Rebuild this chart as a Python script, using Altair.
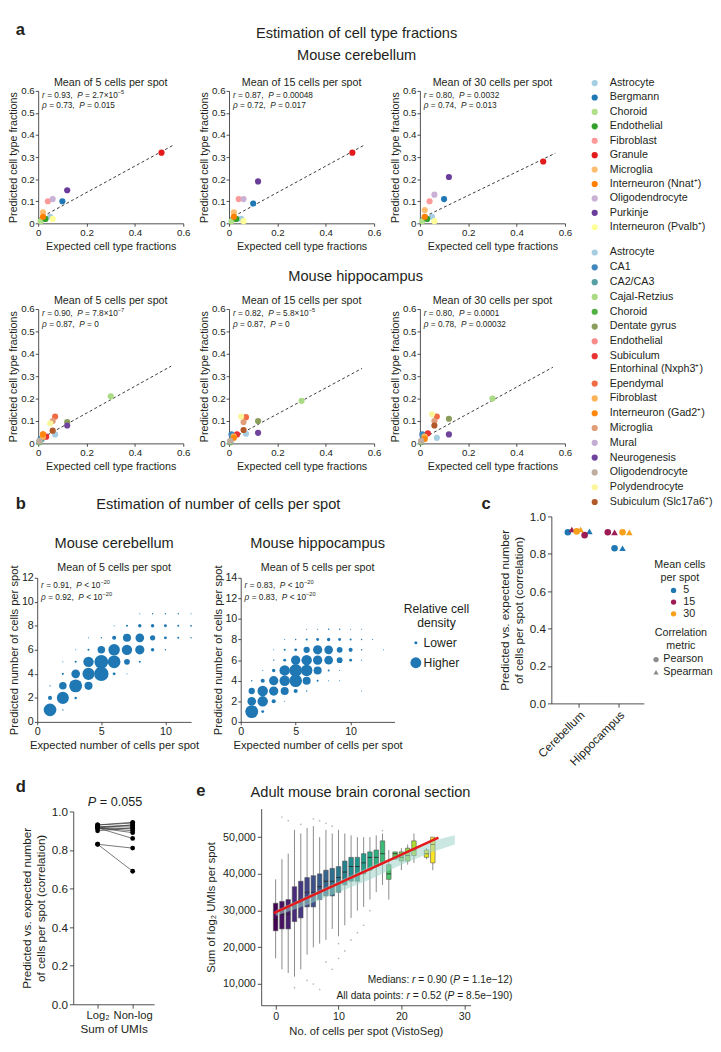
import altair as alt
import pandas as pd

FONT = "Liberation Sans"
INK = "#231f20"
W, H = 712, 1043


def X(v):
    return v - 8


def Y(v):
    return v - 8


# ---------------- panel a : mouse cerebellum ----------------
cb_types = ["Astrocyte", "Bergmann", "Choroid", "Endothelial", "Fibroblast", "Granule",
            "Microglia", "Interneuron (Nnat⁺)", "Oligodendrocyte", "Purkinje", "Interneuron (Pvalb⁺)"]
cb_colors = ["#a6cee3", "#1f78b4", "#b2df8a", "#33a02c", "#fb9a99", "#e31a1c",
             "#fdbf6f", "#ff7f00", "#cab2d6", "#6a3d9a", "#ffff99"]
cb_expected = [0.05, 0.10, 0.01, 0.03, 0.04, 0.51, 0.02, 0.02, 0.06, 0.12, 0.06]
cb_pred_5 = [0.03, 0.10, 0.01, 0.02, 0.10, 0.32, 0.05, 0.03, 0.11, 0.15, 0.02]
cb_pred_15 = [0.02, 0.09, 0.01, 0.02, 0.11, 0.32, 0.05, 0.03, 0.11, 0.19, 0.01]
cb_pred_30 = [0.03, 0.11, 0.01, 0.02, 0.10, 0.28, 0.06, 0.03, 0.13, 0.21, 0.01]
cb_fit_x = [0.0, 0.56]
cb_fit_5 = [0.02, 0.355]
cb_fit_15 = [0.02, 0.355]
cb_fit_30 = [0.02, 0.318]
cb_r = ["0.93", "0.87", "0.80"]
cb_r_p = ["2.7×10^−5", "0.00048", "0.0032"]
cb_rho = ["0.73", "0.72", "0.74"]
cb_rho_p = ["0.015", "0.017", "0.013"]

# ---------------- panel a : mouse hippocampus ----------------
hc_types = ["Astrocyte", "CA1", "CA2/CA3", "Cajal-Retzius", "Choroid", "Dentate gyrus", "Endothelial",
            "Subiculum Entorhinal (Nxph3⁺)", "Ependymal", "Fibroblast", "Interneuron (Gad2⁺)",
            "Microglia", "Mural", "Neurogenesis", "Oligodendrocyte", "Polydendrocyte",
            "Subiculum (Slc17a6⁺)"]
hc_colors = ["#a6cee3", "#3f87bd", "#569fa4", "#aadb84", "#53b044", "#8a9d5c", "#f88a89",
             "#e73233", "#f06c45", "#fdb35a", "#fe870e", "#e19c78", "#c3aed3", "#70449e",
             "#bfae9f", "#fbf59b", "#b15928"]
hc_expected = [0.07, 0.01, 0.015, 0.30, 0.005, 0.12, 0.02, 0.033, 0.07, 0.02, 0.02,
               0.06, 0.005, 0.12, 0.005, 0.05, 0.06]
hc_pred_5 = [0.04, 0.02, 0.02, 0.21, 0.005, 0.095, 0.04, 0.03, 0.12, 0.03, 0.04,
             0.10, 0.01, 0.08, 0.01, 0.09, 0.057]
hc_pred_15 = [0.043, 0.04, 0.03, 0.19, 0.005, 0.10, 0.03, 0.04, 0.117, 0.03, 0.025,
              0.095, 0.01, 0.047, 0.01, 0.12, 0.06]
hc_pred_30 = [0.025, 0.04, 0.03, 0.20, 0.005, 0.11, 0.03, 0.045, 0.12, 0.03, 0.02,
              0.10, 0.01, 0.04, 0.01, 0.13, 0.08]
hc_fit_x = [0.0, 0.55]
hc_fit_5 = [0.015, 0.345]
hc_fit_15 = [0.015, 0.335]
hc_fit_30 = [0.015, 0.34]
hc_r = ["0.90", "0.82", "0.80"]
hc_r_p = ["7.8×10^−7", "5.8×10^−5", "0.0001"]
hc_rho = ["0.87", "0.87", "0.78"]
hc_rho_p = ["0", "0", "0.00032"]
mean_titles = ["Mean of 5 cells per spot", "Mean of 15 cells per spot", "Mean of 30 cells per spot"]

# ---------------- panel b : bubble grids (expected, predicted, relative density) ----------------
b_cb_exp = [1, 2,
            1, 2, 3,
            1, 2, 3, 4,
            2, 3, 4, 5, 6, 7,
            2, 3, 4, 5, 6, 7, 8,
            3, 4, 5, 6, 7, 8, 9, 10,
            4, 5, 6, 7, 8, 9, 10, 11, 12,
            6, 7, 8, 9, 10, 11, 12,
            8, 9, 10, 11, 12]
b_cb_pred = [1, 1,
             2, 2, 2,
             3, 3, 3, 3,
             4, 4, 4, 4, 4, 4,
             5, 5, 5, 5, 5, 5, 5,
             6, 6, 6, 6, 6, 6, 6, 6,
             7, 7, 7, 7, 7, 7, 7, 7, 7,
             8, 8, 8, 8, 8, 8, 8,
             9, 9, 9, 9, 9]
b_cb_den = [0.77, 0.01,
            0.08, 0.7, 0.03,
            0.01, 0.27, 0.8, 0.31,
            0.02, 0.36, 0.7, 1.0, 0.04, 0.005,
            0.005, 0.02, 0.52, 0.92, 0.77, 0.16, 0.02,
            0.005, 0.02, 0.27, 0.63, 0.52, 0.41, 0.057, 0.01,
            0.005, 0.01, 0.08, 0.31, 0.36, 0.13, 0.04, 0.02, 0.01,
            0.005, 0.02, 0.057, 0.057, 0.04, 0.02, 0.015,
            0.005, 0.01, 0.01, 0.01, 0.005]

b_hc_exp = [1, 2,
            1, 2, 3, 4,
            1, 2, 3, 4, 5, 6, 11,
            1, 2, 3, 4, 5, 6, 7, 8, 9,
            2, 3, 4, 5, 6, 7, 8, 9,
            3, 4, 5, 6, 7, 8, 9, 10, 11,
            3, 4, 5, 6, 7, 8, 9, 10, 11, 13,
            4, 5, 6, 7, 8, 9, 10, 11, 12,
            6, 7, 8, 9, 10, 11]
b_hc_pred = [1, 1,
             2, 2, 2, 2,
             3, 3, 3, 3, 3, 3, 3,
             4, 4, 4, 4, 4, 4, 4, 4, 4,
             5, 5, 5, 5, 5, 5, 5, 5,
             6, 6, 6, 6, 6, 6, 6, 6, 6,
             7, 7, 7, 7, 7, 7, 7, 7, 7, 7,
             8, 8, 8, 8, 8, 8, 8, 8, 8,
             9, 9, 9, 9, 9, 9]
b_hc_den = [0.8, 0.04,
            0.36, 0.52, 0.08, 0.005,
            0.19, 0.52, 0.41, 0.31, 0.08, 0.01, 0.005,
            0.01, 0.08, 0.41, 0.52, 0.77, 0.31, 0.02, 0.005, 0.005,
            0.005, 0.057, 0.52, 0.77, 0.63, 0.31, 0.02, 0.005,
            0.01, 0.04, 0.41, 0.52, 0.41, 0.36, 0.16, 0.04, 0.005,
            0.005, 0.02, 0.04, 0.19, 0.41, 0.36, 0.16, 0.08, 0.01, 0.005,
            0.005, 0.01, 0.02, 0.04, 0.057, 0.04, 0.02, 0.01, 0.005,
            0.005, 0.005, 0.01, 0.01, 0.005, 0.005]
b_r = ["0.91", "0.83"]
b_rho = ["0.92", "0.83"]
b_p = "10^−20"

# ---------------- panel c ----------------
c_tissue = ["Cerebellum"] * 6 + ["Hippocampus"] * 6
c_tissue_pos = [1] * 6 + [2] * 6
c_mean = ["5", "5", "15", "15", "30", "30"] * 2
c_metric = ["Pearson", "Spearman"] * 6
c_value = [0.915, 0.92, 0.90, 0.93, 0.92, 0.93, 0.83, 0.83, 0.915, 0.915, 0.915, 0.915]
c_dodge = [-0.27, 0.27, 0.15, -0.17, -0.05, 0.05, -0.1, 0.1, -0.27, -0.1, 0.1, 0.27]
c_means = ["5", "15", "30"]
c_mean_colors = ["#1f78b4", "#9c1c56", "#f7a01c"]

# ---------------- panel d ----------------
d_log2 = c_value
d_nonlog = [0.93, 0.92, 0.915, 0.944, 0.93, 0.94, 0.69, 0.81, 0.89, 0.90, 0.86, 0.91]

# ---------------- panel e : boxplots per number of cells ----------------
e_n = [0, 1, 2, 3, 4, 5, 6, 7, 8, 9, 10, 11, 12, 13, 14, 15, 16, 17, 18, 19, 20, 21, 22, 24, 25]
e_lo = [17000, 14000, 13000, 12000, 14000, 18000, 20000, 21000, 22000, 25000, 23000, 26000, 28000,
        30000, 31000, 33000, 35000, 37000, 33000, 44000, 41000, 42500, 43000, 44000, 41000]
e_q1 = [24500, 25000, 25000, 27000, 28000, 31000, 31000, 33000, 34000, 34000, 35000, 37000, 38000,
        38000, 40000, 41000, 42000, 43000, 38500, 44000, 43500, 43500, 45000, 44500, 43000]
e_med = [27500, 29000, 29000, 31000, 33000, 35000, 35000, 36500, 38000, 38000, 39000, 40500, 42000,
         42000, 43000, 44500, 44500, 45500, 40000, 45500, 44500, 45000, 46500, 45500, 48000]
e_q3 = [32000, 32500, 33000, 36500, 38000, 39000, 39500, 40000, 41000, 41500, 42000, 43500, 44500,
        44500, 45500, 46000, 46500, 49000, 42500, 46000, 46000, 47000, 49000, 46500, 50000]
e_hi = [38500, 44000, 45500, 52000, 51000, 52500, 53000, 50000, 52000, 51000, 52000, 51000, 50500,
        50000, 50000, 50000, 50500, 51000, 46500, 46000, 47000, 48000, 51000, 47000, 50000]
e_out_n = [1, 2, 4, 6, 7, 8, 9, 17, 3, 5, 6, 7, 8, 9, 10, 11, 12, 13, 14, 10, 15]
e_out_v = [55500, 54500, 53500, 55000, 54500, 53800, 53000, 51800, 9000, 11000, 10000, 8500,
           16000, 14000, 17000, 19000, 22000, 24000, 26000, 21000, 30000]
e_fit_x = [-0.3, 25.9]
e_fit_y = [29300, 49900]
e_band_x = [0, 5, 10, 15, 20, 25, 28.5]
e_band_lo = [28500, 31500, 35000, 38500, 42500, 46000, 48000]
e_band_hi = [30000, 34000, 38000, 42000, 45500, 49000, 50500]

# =====================================================================
ONE = alt.Data(values=[{"k": 1}])


def label(s, x, y, size=11, weight="normal", align="center", baseline="middle",
          angle=0, italic=False, color=INK, lh=None):
    kw = dict(text=s, fontSize=size, fontWeight=weight, align=align, baseline=baseline,
              font=FONT, color=color)
    if italic:
        kw["fontStyle"] = "italic"
    if angle:
        kw["angle"] = angle
    if lh:
        kw["lineHeight"] = lh
    return alt.Chart(ONE).mark_text(**kw).encode(x=alt.value(X(x)), y=alt.value(Y(y)))


# approximate advance widths (per 1000 em) of Liberation Sans, used to place italic/superscript runs
CW = {" ": 278, ".": 278, ",": 278, "=": 584, "<": 584, "(": 333, ")": 333, "×": 584, "−": 584,
      ":": 278, "ρ": 577, "P": 667, "M": 833, "A": 667, "e": 556, "r": 333, "d": 556, "i": 222,
      "a": 556, "n": 556, "s": 500, "l": 222, "t": 278, "p": 556, "o": 556}


def tw(s, size):
    return sum(CW.get(ch, 556) for ch in s) * size / 1000.0


def rich(segs, x, y, size, align="left"):
    """segs: list of (text, kind) with kind 'n' normal, 'i' italic, 's' superscript."""
    widths = [tw(t, size * (0.68 if k == "s" else 1)) for t, k in segs]
    total = sum(widths)
    cx = x if align == "left" else (x - total if align == "right" else x - total / 2)
    out = []
    for (t, k), w in zip(segs, widths):
        lead = len(t) - len(t.lstrip())
        body = t.strip()
        if body:
            if k == "s":
                out.append(label(body, cx + tw(" " * lead, size * 0.68), y - size * 0.36,
                                 size=size * 0.68, align="left"))
            else:
                out.append(label(body, cx + tw(" " * lead, size), y, size=size, align="left",
                                 italic=(k == "i")))
        cx += w
    return out


def pval_segs(op, p):
    if "^" in p:
        base, ex = p.split("^")
        return [(" " + op + " " + base, "n"), (ex, "s")]
    return [(" " + op + " " + p, "n")]


def stat_line(sym, val, op, p, x, y, size=8.5):
    segs = [(sym, "i"), (" = " + val + ",  ", "n"), ("P", "i")] + pval_segs(op, p)
    return rich(segs, x, y, size)


BASE_AX = dict(grid=False, domainColor=INK, tickColor=INK, labelColor=INK, titleColor=INK,
               domainWidth=0.8, tickWidth=0.8, labelFont=FONT, titleFont=FONT,
               titleFontWeight="normal", labelFlush=False, labelOverlap=False)


def xax(yline, values, title, lsize=10, tsize=11, tick=3, lpad=1, tpad=3.5, **kw):
    d = dict(BASE_AX)
    d.update(orient="bottom", offset=Y(yline) - H, values=values, title=title,
             labelFontSize=lsize, titleFontSize=tsize, tickSize=tick,
             labelPadding=lpad, titlePadding=tpad)
    d.update(kw)
    return alt.Axis(**d)


def yax(xline, values, title, lsize=10, tsize=11, tick=3, lpad=1, tpad=2, **kw):
    d = dict(BASE_AX)
    d.update(orient="left", offset=-X(xline), values=values, title=title,
             labelFontSize=lsize, titleFontSize=tsize, tickSize=tick,
             labelPadding=lpad, titlePadding=tpad)
    d.update(kw)
    return alt.Axis(**d)


def sc(dom, r0, r1):
    return alt.Scale(domain=dom, range=[r0, r1], nice=False, zero=False)


layers = []

# ---------------- titles ----------------
layers += [
    label("a", 8, 16, size=17, weight="bold", align="left", baseline="alphabetic"),
    label("Estimation of cell type fractions", 358, 14, size=15),
    label("Mouse cerebellum", 358, 36, size=15),
    label("Mouse hippocampus", 357, 263, size=15),
]

FRAC_EXPR = "datum.value == 0 ? '0' : format(datum.value, '.1f')"
A_X0 = [31, 227, 423]
A_W = 149


def panel_a(types, colors, expected, pred, fit_x, fit_y, x0, yb, yt, legend, stats, title):
    df = pd.DataFrame({"type": types, "exp": expected, "pred": pred})
    xs = sc([0, 0.6], X(x0), X(x0 + A_W))
    ys = sc([0, 0.6], Y(yb), Y(yt))
    fit = alt.Chart(pd.DataFrame({"fx": fit_x, "fy": fit_y})).mark_line(
        strokeDash=[3, 2.5], color=INK, strokeWidth=0.9).encode(
        x=alt.X("fx:Q", scale=xs, axis=None), y=alt.Y("fy:Q", scale=ys, axis=None))
    pts = alt.Chart(df).mark_circle(size=40, opacity=1).encode(
        x=alt.X("exp:Q", scale=xs,
                axis=xax(yb, [0, 0.2, 0.4, 0.6], "Expected cell type fractions", labelExpr=FRAC_EXPR)),
        y=alt.Y("pred:Q", scale=ys,
                axis=yax(x0, [0, 0.1, 0.2, 0.3, 0.4, 0.5, 0.6], "Predicted cell type fractions",
                         labelExpr=FRAC_EXPR)),
        color=alt.Color("type:N", scale=alt.Scale(domain=types, range=colors), legend=legend))
    out = [fit, pts, label(title, x0 + A_W / 2, yt - 8, size=11)]
    out += stat_line("r", stats[0], "=", stats[1], x0 + 4, yt + 4)
    out += stat_line("ρ", stats[2], "=", stats[3], x0 + 4, yt + 15)
    return out


leg_common = dict(orient="none", title=None, symbolType="circle", symbolStrokeWidth=0,
                  labelFont=FONT, labelFontSize=11, labelColor=INK, padding=0,
                  labelOffset=10, labelLimit=200)
cb_legend = alt.Legend(legendX=X(597), legendY=Y(59.5), symbolSize=40, rowPadding=2.8, **leg_common)
hc_legend = alt.Legend(legendX=X(597), legendY=Y(233.5), symbolSize=40, rowPadding=3.2,
                       labelExpr="datum.label == 'Subiculum Entorhinal (Nxph3⁺)' ? "
                                 "['Subiculum', 'Entorhinal (Nxph3⁺)'] : datum.label",
                       **leg_common)

cb_preds = [cb_pred_5, cb_pred_15, cb_pred_30]
cb_fits = [cb_fit_5, cb_fit_15, cb_fit_30]
hc_preds = [hc_pred_5, hc_pred_15, hc_pred_30]
hc_fits = [hc_fit_5, hc_fit_15, hc_fit_30]
for i in range(3):
    layers += panel_a(cb_types, cb_colors, cb_expected, cb_preds[i], cb_fit_x, cb_fits[i],
                      A_X0[i], 209, 73, cb_legend if i == 0 else None,
                      [cb_r[i], cb_r_p[i], cb_rho[i], cb_rho_p[i]], mean_titles[i])
    layers += panel_a(hc_types, hc_colors, hc_expected, hc_preds[i], hc_fit_x, hc_fits[i],
                      A_X0[i], 435, 297, hc_legend if i == 0 else None,
                      [hc_r[i], hc_r_p[i], hc_rho[i], hc_rho_p[i]], mean_titles[i])

# ---------------- panel b ----------------
BLUE = "#1f78b4"
layers += [
    label("b", 8, 502, size=17, weight="bold", align="left", baseline="alphabetic"),
    label("Estimation of number of cells per spot", 216, 497, size=15),
    label("Mouse cerebellum", 109, 537, size=15),
    label("Mouse hippocampus", 318, 537, size=15),
    label(["Relative cell", "density"], 440, 605, size=12.5, lh=15),
]


def panel_b(exp, pred, den, x0, xmax, ymax, legend, r, rho):
    df = pd.DataFrame({"e": exp, "p": pred, "d": den})
    xs = sc([0, xmax], X(x0), X(x0 + 158))
    ys = sc([0, ymax], Y(721), Y(573))
    pts = alt.Chart(df).mark_circle(color=BLUE, opacity=1).encode(
        x=alt.X("e:Q", scale=xs, axis=xax(721, [0, 5, 10], "Expected number of cells per spot",
                                          lsize=11, tsize=11.5)),
        y=alt.Y("p:Q", scale=ys, axis=yax(x0, list(range(0, ymax + 1, 2)),
                                          "Predicted number of cells per spot", lsize=11, tsize=11.5)),
        size=alt.Size("d:Q", scale=alt.Scale(domain=[0, 1], range=[0, 220]), legend=legend))
    out = [pts, label("Mean of 5 cells per spot", x0 + 79, 563, size=11)]
    out += stat_line("r", r, "<", b_p, x0 + 4, 580)
    out += stat_line("ρ", rho, "<", b_p, x0 + 4, 593)
    return out


size_legend = alt.Legend(orient="none", legendX=X(412.6), legendY=Y(633.5), title=None,
                         values=[0.045, 0.57], labelExpr="datum.value < 0.3 ? 'Lower' : 'Higher'",
                         symbolFillColor=BLUE, symbolStrokeWidth=0, symbolType="circle",
                         labelFont=FONT, labelFontSize=12.5, labelColor=INK, padding=0,
                         labelOffset=1.7, rowPadding=7.5)
layers += panel_b(b_cb_exp, b_cb_pred, b_cb_den, 30, 12, 12, size_legend, b_r[0], b_rho[0])
layers += panel_b(b_hc_exp, b_hc_pred, b_hc_den, 239, 14, 14, None, b_r[1], b_rho[1])

# ---------------- panel c ----------------
c_df = pd.DataFrame({"tissue": c_tissue, "pos": c_tissue_pos, "mean": c_mean,
                     "metric": c_metric, "value": c_value, "dodge": c_dodge})
c_df["xp"] = c_df["pos"] + c_df["dodge"]
c_xs = sc([0.317, 2.634], X(558), X(653))
c_ys = sc([0, 1], Y(702), Y(510))
c_layer = alt.Chart(c_df).mark_point(filled=True, size=45, opacity=1).encode(
    x=alt.X("xp:Q", scale=c_xs,
            axis=xax(702, [1, 2], None, lsize=12, tick=4, lpad=2, labelAngle=315,
                     labelExpr="datum.value == 1 ? 'Cerebellum' : 'Hippocampus'")),
    y=alt.Y("value:Q", scale=c_ys,
            axis=yax(558, [0, 0.2, 0.4, 0.6, 0.8, 1.0],
                     ["Predicted vs. expected number", "of cells per spot (correlation)"],
                     lsize=12, tsize=12, tick=4, lpad=2, tpad=4, format=".1f")),
    color=alt.Color("mean:N", scale=alt.Scale(domain=c_means, range=c_mean_colors),
                    legend=alt.Legend(orient="none", legendX=X(678), legendY=Y(580.5), title=None,
                                      symbolType="circle", symbolSize=30, symbolStrokeWidth=0,
                                      labelFont=FONT, labelFontSize=11, labelColor=INK,
                                      padding=0, labelOffset=4.5, rowPadding=0)),
    shape=alt.Shape("metric:N", scale=alt.Scale(domain=["Pearson", "Spearman"],
                                                range=["circle", "triangle-up"]),
                    legend=alt.Legend(orient="none", legendX=X(660), legendY=Y(651.5), title=None,
                                      symbolSize=30, symbolFillColor="#8c8c8c", symbolStrokeWidth=0,
                                      labelFont=FONT, labelFontSize=11, labelColor=INK,
                                      padding=0, labelOffset=2, rowPadding=1)))
layers += [
    c_layer,
    label("c", 491, 502, size=17, weight="bold", align="center", baseline="alphabetic"),
    label(["Mean cells", "per spot"], 690, 560, size=11, lh=13),
    label(["Correlation", "metric"], 691, 630, size=11, lh=13),
]

# ---------------- panel d ----------------
d_pair = list(range(len(d_log2)))
d_df = pd.DataFrame({"pair": d_pair * 2, "pos": [0] * len(d_log2) + [1] * len(d_nonlog),
                     "value": d_log2 + d_nonlog})
d_xs = sc([-0.694, 1.61], X(67), X(150))
d_ys = sc([0, 1], Y(1011), Y(813))
d_lines = alt.Chart(d_df).mark_line(color="#3a3a3a", strokeWidth=0.7).encode(
    x=alt.X("pos:Q", scale=d_xs, axis=None), y=alt.Y("value:Q", scale=d_ys, axis=None),
    detail="pair:N")
d_pts = alt.Chart(d_df).mark_circle(color="black", size=24, opacity=1).encode(
    x=alt.X("pos:Q", scale=d_xs,
            axis=xax(1011, [0, 1], "Sum of UMIs", lsize=11.5, tsize=12, tick=4, lpad=2, tpad=3,
                     labelExpr="datum.value == 0 ? 'Log₂' : 'Non-log'")),
    y=alt.Y("value:Q", scale=d_ys,
            axis=yax(67, [0, 0.2, 0.4, 0.6, 0.8, 1.0],
                     ["Predicted vs. expected number", "of cells per spot (correlation)"],
                     lsize=12, tsize=12, tick=4, lpad=2, tpad=4, format=".1f")))
layers += [d_lines, d_pts,
           label("d", 8, 793, size=17, weight="bold", align="left", baseline="alphabetic")]
layers += rich([("P", "i"), (" = 0.055", "n")], 110, 803, 13, align="center")

# ---------------- panel e ----------------
e_df = pd.DataFrame({"n": e_n, "lo": e_lo, "q1": e_q1, "med": e_med, "q3": e_q3, "hi": e_hi})
e_df["nl"] = e_df["n"] - 0.36
e_df["nr"] = e_df["n"] + 0.36
e_xs = sc([-2.3, 31], X(260), X(475))
e_ys = sc([4200, 57800], Y(1012), Y(810))
vir = alt.Scale(scheme="viridis", domain=[0, 25])
e_band = alt.Chart(pd.DataFrame({"bx": e_band_x, "blo": e_band_lo, "bhi": e_band_hi})).mark_area(
    color="#9fd6c9", opacity=0.55).encode(
    x=alt.X("bx:Q", scale=e_xs, axis=None), y=alt.Y("blo:Q", scale=e_ys, axis=None), y2="bhi:Q")
e_out = alt.Chart(pd.DataFrame({"n": e_out_n, "v": e_out_v})).mark_circle(
    color="#9a9a9a", size=3, opacity=0.7).encode(
    x=alt.X("n:Q", scale=e_xs, axis=None), y=alt.Y("v:Q", scale=e_ys, axis=None))
e_whisk = alt.Chart(e_df).mark_rule(color="#555555", strokeWidth=0.7).encode(
    x=alt.X("n:Q", scale=e_xs,
            axis=xax(1012, [0, 10, 20, 30], "No. of cells per spot (VistoSeg)", lsize=11,
                     tsize=11.5, tick=4, lpad=2, tpad=4)),
    y=alt.Y("lo:Q", scale=e_ys,
            axis=yax(260, [10000, 20000, 30000, 40000, 50000], "Sum of log₂ UMIs per spot",
                     lsize=11, tsize=11.5, tick=4, lpad=2, tpad=6, format=",d")),
    y2="hi:Q")
e_box = alt.Chart(e_df).mark_rect(stroke="#555555", strokeWidth=0.6).encode(
    x=alt.X("nl:Q", scale=e_xs, axis=None), x2="nr:Q",
    y=alt.Y("q1:Q", scale=e_ys, axis=None), y2="q3:Q",
    color=alt.Color("n:Q", scale=vir, legend=None))
e_medl = alt.Chart(e_df).mark_rule(color="#222222", strokeWidth=0.8).encode(
    x=alt.X("nl:Q", scale=e_xs, axis=None), x2="nr:Q",
    y=alt.Y("med:Q", scale=e_ys, axis=None))
e_fit = alt.Chart(pd.DataFrame({"fx": e_fit_x, "fy": e_fit_y})).mark_line(
    color="#e41a1c", strokeWidth=2.6).encode(
    x=alt.X("fx:Q", scale=e_xs, axis=None), y=alt.Y("fy:Q", scale=e_ys, axis=None))
layers += [
    e_out, e_whisk, e_box, e_medl, e_band, e_fit,
    label("e", 198, 797, size=17, weight="bold", align="center", baseline="alphabetic"),
    label("Adult mouse brain coronal section", 362, 793, size=15),
]
layers += rich([("Medians: ", "n"), ("r", "i"), (" = 0.90 (", "n"), ("P", "i"),
                (" = 1.1e−12)", "n")], 518, 986, 10.5, align="right")
layers += rich([("All data points: ", "n"), ("r", "i"), (" = 0.52 (", "n"), ("P", "i"),
                (" = 8.5e−190)", "n")], 518, 1003, 10.5, align="right")

chart = alt.layer(*layers).resolve_scale(
    x="independent", y="independent", color="independent", size="independent", shape="independent"
).resolve_axis(x="independent", y="independent").resolve_legend(
    color="independent", size="independent", shape="independent"
).properties(width=W, height=H, padding=0).configure_view(stroke=None)

chart.save("out.html", embed_options={"renderer": "svg", "actions": False})
